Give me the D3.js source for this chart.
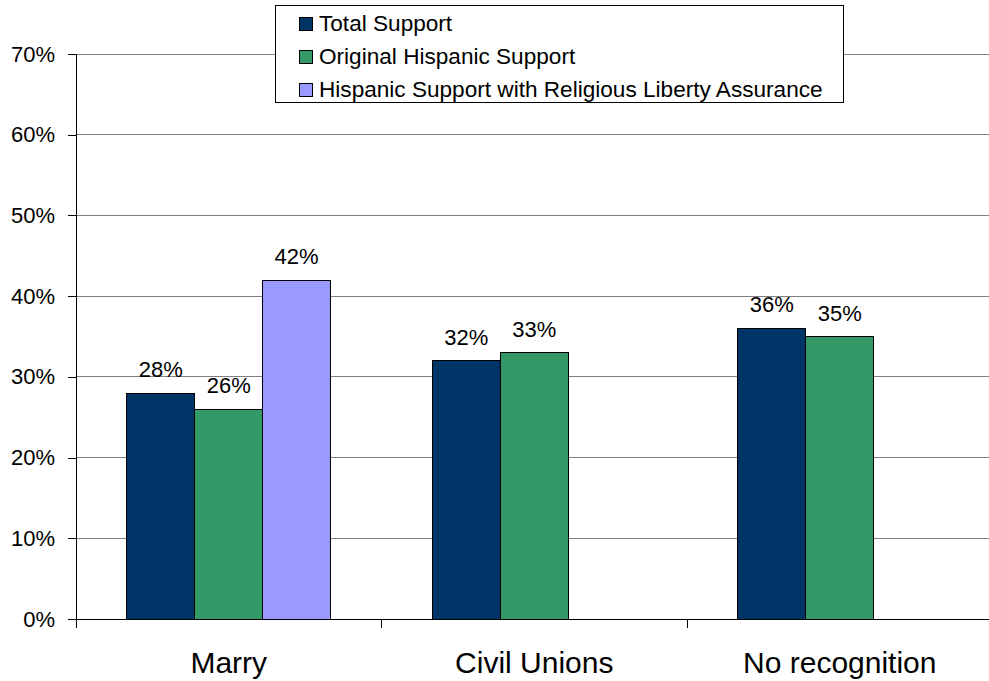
<!DOCTYPE html>
<html>
<head>
<meta charset="utf-8">
<script src="https://cdn.jsdelivr.net/npm/d3@7"></script>
<style>
  body { margin: 0; background: #fff; }
  svg { display: block; font-family: "Liberation Sans", Arial, sans-serif; }
</style>
</head>
<body>
<svg id="chart" width="989" height="681"></svg>
<script>
// Support for legal recognition of same-sex couples
const categories = ["Marry", "Civil Unions", "No recognition"];
const seriesNames = [
  "Total Support",
  "Original Hispanic Support",
  "Hispanic Support with Religious Liberty Assurance"
];
const totalSupport = [0.28, 0.32, 0.36];
const originalHispanic = [0.26, 0.33, 0.35];
const religiousLiberty = [0.42, null, null];
const seriesColors = ["#003366", "#339966", "#9999FF"];
const yTicks = [0, 0.1, 0.2, 0.3, 0.4, 0.5, 0.6, 0.7];

const seriesValues = [totalSupport, originalHispanic, religiousLiberty];

const svg = d3.select("#chart");
const W = 989, H = 681;
const x0 = 76, x1 = 992.5;
const yTop = 54, yBot = 619;

const x = d3.scaleBand().domain(categories).range([x0, x1]).paddingInner(0).paddingOuter(0);
const xs = d3.scaleBand().domain(d3.range(seriesNames.length))
  .range([0, x.bandwidth()]).paddingInner(0).paddingOuter(0.75);
const y = d3.scaleLinear().domain([0, 0.7]).range([yBot, yTop]);
const pct = d3.format(".0%");

// horizontal gridlines
svg.append("g").selectAll("line").data(yTicks.filter(d => d > 0)).join("line")
  .attr("x1", x0).attr("x2", W)
  .attr("y1", d => y(d)).attr("y2", d => y(d))
  .attr("stroke", "#808080").attr("stroke-width", 1)
  .attr("shape-rendering", "crispEdges");

// y axis
const yAxis = d3.axisLeft(y).tickValues(yTicks).tickFormat(pct)
  .tickSize(8).tickPadding(13);
const gy = svg.append("g").attr("transform", `translate(${x0},0)`).call(yAxis);
gy.select(".domain").attr("stroke", "#000");
gy.selectAll(".tick line").attr("stroke", "#000");
gy.selectAll("text").attr("font-size", 22).attr("fill", "#000")
  .attr("font-family", "Liberation Sans, Arial, sans-serif");
gy.attr("shape-rendering", "crispEdges");

// bars and value labels
const groups = svg.append("g").selectAll("g").data(categories).join("g")
  .attr("transform", d => `translate(${x(d)},0)`);

groups.each(function (cat, ci) {
  const g = d3.select(this);
  seriesValues.forEach((vals, si) => {
    const v = vals[ci];
    if (v == null) return;
    g.append("rect")
      .attr("x", xs(si)).attr("width", xs.bandwidth())
      .attr("y", y(v)).attr("height", y(0) - y(v))
      .attr("fill", seriesColors[si]).attr("stroke", "#000").attr("stroke-width", 1)
      .attr("shape-rendering", "crispEdges");
    g.append("text")
      .attr("x", xs(si) + xs.bandwidth() / 2)
      .attr("y", y(v) - 16)
      .attr("text-anchor", "middle")
      .attr("font-size", 22)
      .attr("fill", "#000")
      .text(pct(v));
  });
});

// x axis line, category separators and labels
svg.append("line").attr("x1", x0).attr("x2", W).attr("y1", yBot).attr("y2", yBot)
  .attr("stroke", "#000").attr("shape-rendering", "crispEdges");
const seps = [x0].concat(categories.slice(1).map(c => x(c)));
svg.append("g").selectAll("line").data(seps).join("line")
  .attr("x1", d => d).attr("x2", d => d).attr("y1", yBot).attr("y2", yBot + 9)
  .attr("stroke", "#000").attr("shape-rendering", "crispEdges");
svg.append("g").selectAll("text").data(categories).join("text")
  .attr("x", d => x(d) + x.bandwidth() / 2)
  .attr("y", 673)
  .attr("text-anchor", "middle")
  .attr("font-size", 30)
  .attr("fill", "#000")
  .text(d => d);

// legend
const legend = svg.append("g");
legend.append("rect").attr("x", 275.5).attr("y", 5.5).attr("width", 568).attr("height", 97)
  .attr("fill", "#fff").attr("stroke", "#000").attr("stroke-width", 1);
const rowBase = [31, 64, 97];
seriesNames.forEach((name, i) => {
  legend.append("rect")
    .attr("x", 299.5).attr("y", rowBase[i] - 13.5).attr("width", 13).attr("height", 13)
    .attr("fill", seriesColors[i]).attr("stroke", "#000").attr("stroke-width", 1);
  legend.append("text")
    .attr("x", 319).attr("y", rowBase[i])
    .attr("font-size", 22.6).attr("fill", "#000")
    .text(name);
});
</script>
</body>
</html>
